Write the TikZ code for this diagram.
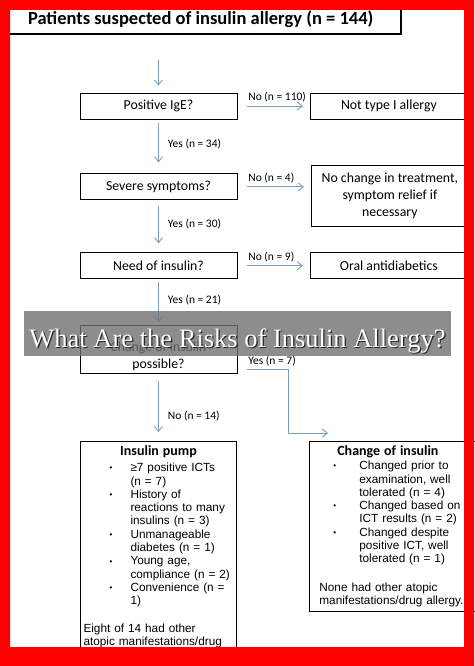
\documentclass[tikz,border=0pt]{standalone}
\usepackage{fontspec}
\setmainfont{Carlito}
\newfontfamily\arialfont{Liberation Sans}
\newfontfamily\timesfont{Liberation Serif}
\usepackage{tikz}
\usetikzlibrary{arrows.meta,positioning}
\usepackage{xcolor}

\definecolor{flowblue}{RGB}{122,158,198}
\definecolor{framered}{RGB}{255,0,0}
\newcommand{\shadowed}[1]{\makebox[0pt][l]{\color{black!85}\hspace{1.2pt}\raisebox{-1.2pt}{#1}}#1}
\newcommand{\bull}{\raisebox{0.8pt}{\fontsize{8}{8}\selectfont\textbullet}}
\hyphenpenalty=10000

\begin{document}
\begin{tikzpicture}[x=1pt, y=-1pt,
    % decision boxes (left) and outcome boxes (right)
        qbox/.style={rectangle, draw, line width=0.9pt, minimum width=157pt, minimum height=26pt, inner sep=2pt, align=center, font=\fontsize{13.8}{17}\selectfont},
        rbox/.style={qbox, minimum width=156pt},
    % boxes with the lists at the bottom
        listbox/.style={rectangle, draw, line width=0.9pt, align=left, inner ysep=4pt, font=\arialfont\fontsize{11.8}{13.3}\selectfont},
        tbox/.style={rectangle, draw, line width=1.6pt, minimum width=401pt, minimum height=30pt, font=\bfseries\fontsize{18.5}{22}\selectfont},
        flow/.style={-{Straight Barb[length=5pt,width=8pt]}, draw=flowblue, line width=0.9pt},
        lab/.style={font=\fontsize{11.5}{13}\selectfont, inner sep=1pt},
        banner/.style={fill=black!56, fill opacity=0.8, text opacity=1, text=white, minimum width=427pt, minimum height=45pt, text height=30pt, text depth=3pt, font=\timesfont\fontsize{26.5}{30}\selectfont}
    ]
    \useasboundingbox (0,0) rectangle (474,666);

    % --- TITLE ---
    \node[tbox, anchor=south east] (title) at (402,35) {Patients suspected of insulin allergy (n = 144)};

    % --- LEFT COLUMN ---
    \node[qbox] (ige) at (158.5,106) {Positive IgE?};
    \node[qbox, below=54pt of ige] (sev) {Severe symptoms?};
    \node[qbox, below=52pt of sev] (need) {Need of insulin?};
    \node[qbox, below=46pt of need, minimum height=48pt, inner ysep=1pt, text height=42pt, text depth=4pt] (chg) {Change of insulin\\possible?};

    % --- RIGHT COLUMN ---
    \node[rbox, right=73pt of ige] (notI) {Not type I allergy};
    \node[rbox, right=74pt of sev, yshift=-9pt, minimum height=61pt] (keep) {No change in treatment,\\symptom relief if\\necessary};
    \node[rbox, right=73pt of need] (oral) {Oral antidiabetics};

    % --- BOTTOM BOXES ---
    \node[listbox, below=67pt of chg, text width=150pt, inner xsep=3pt] (pump) {%
        {\centering\normalfont\bfseries\fontsize{14}{15}\selectfont Insulin pump\par}
        \vspace{3pt}
        \noindent\begin{tabular}[t]{@{\hspace{26pt}}p{5pt}@{\hspace{16pt}}l@{}}
        \bull & ≥7 positive ICTs\\
              & (n = 7)\\
        \bull & History of\\
              & reactions to many\\
              & insulins (n = 3)\\
        \bull & Unmanageable\\
              & diabetes (n = 1)\\
        \bull & Young age,\\
              & compliance (n = 2)\\
        \bull & Convenience (n =\\
              & 1)
        \end{tabular}\par
        \vspace{14pt}
        Eight of 14 had other\\
        atopic manifestations/drug\\
        allergy.};
    \node[listbox, anchor=north west, text width=150pt, inner xsep=10pt] (insch) at ([xshift=72pt]pump.north east) {%
        {\normalfont\bfseries\fontsize{14}{15}\selectfont\makebox[137pt]{Change of insulin}\par}
        \vspace{1pt}
        \noindent\begin{tabular}[t]{@{\hspace{14pt}}p{5pt}@{\hspace{21pt}}l@{}}
        \bull & Changed prior to\\
              & examination, well\\
              & tolerated (n = 4)\\
        \bull & Changed based on\\
              & ICT results (n = 2)\\
        \bull & Changed despite\\
              & positive ICT, well\\
              & tolerated (n = 1)
        \end{tabular}\par
        \vspace{15pt}
        None had other atopic\\
        manifestations/drug allergy.};

    % --- ARROWS ---
    \draw[flow, shorten <=25pt, shorten >=7pt] (title.south -| ige.north) -- (ige.north);
    \draw[flow, shorten <=4pt, shorten >=11pt] (ige.south) -- node[lab, right, xshift=8pt, pos=0.45] {Yes (n = 34)} (sev.north);
    \draw[flow, shorten <=6pt, shorten >=9pt] (sev.south) -- node[lab, right, xshift=8pt, pos=0.45] {Yes (n = 30)} (need.north);
    \draw[flow, shorten <=3pt, shorten >=3pt] (need.south) -- node[lab, right, xshift=8pt, pos=0.45] {Yes (n = 21)} (chg.north);
    \draw[flow, shorten <=7pt, shorten >=9pt] (chg.south) -- node[lab, right, xshift=8pt, pos=0.62] {No (n = 14)} (pump.north);

    \draw[flow, shorten <=9.5pt, shorten >=7.5pt] (ige.east) -- node[lab, anchor=south west, pos=0, xshift=9.5pt, yshift=2pt] {No (n = 110)} (notI.west);
    \draw[flow, shorten <=9.5pt, shorten >=7.5pt] (sev.east) -- node[lab, anchor=south west, pos=0, xshift=9.5pt, yshift=2pt] {No (n = 4)} (sev.east -| keep.west);
    \draw[flow, shorten <=9.5pt, shorten >=7.5pt] (need.east) -- node[lab, anchor=south west, pos=0, xshift=9.5pt, yshift=2pt] {No (n = 9)} (oral.west);
    \draw[flow, shorten <=9.5pt] ([yshift=-20pt]chg.east) -- node[lab, anchor=south west, pos=0, xshift=9.5pt, yshift=2pt] {Yes (n = 7)} ++(51pt,0) |- ([xshift=19pt,yshift=8pt]insch.north west);

    % --- BANNER ---
    \node[banner] (ban) at (237.5,333.5) {\shadowed{What Are the Risks of Insulin Allergy?}};

    % --- RED FRAME ---
    \fill[framered, even odd rule] (0,0) rectangle (474,666) (10,10) rectangle (464,647);
\end{tikzpicture}
\end{document}
